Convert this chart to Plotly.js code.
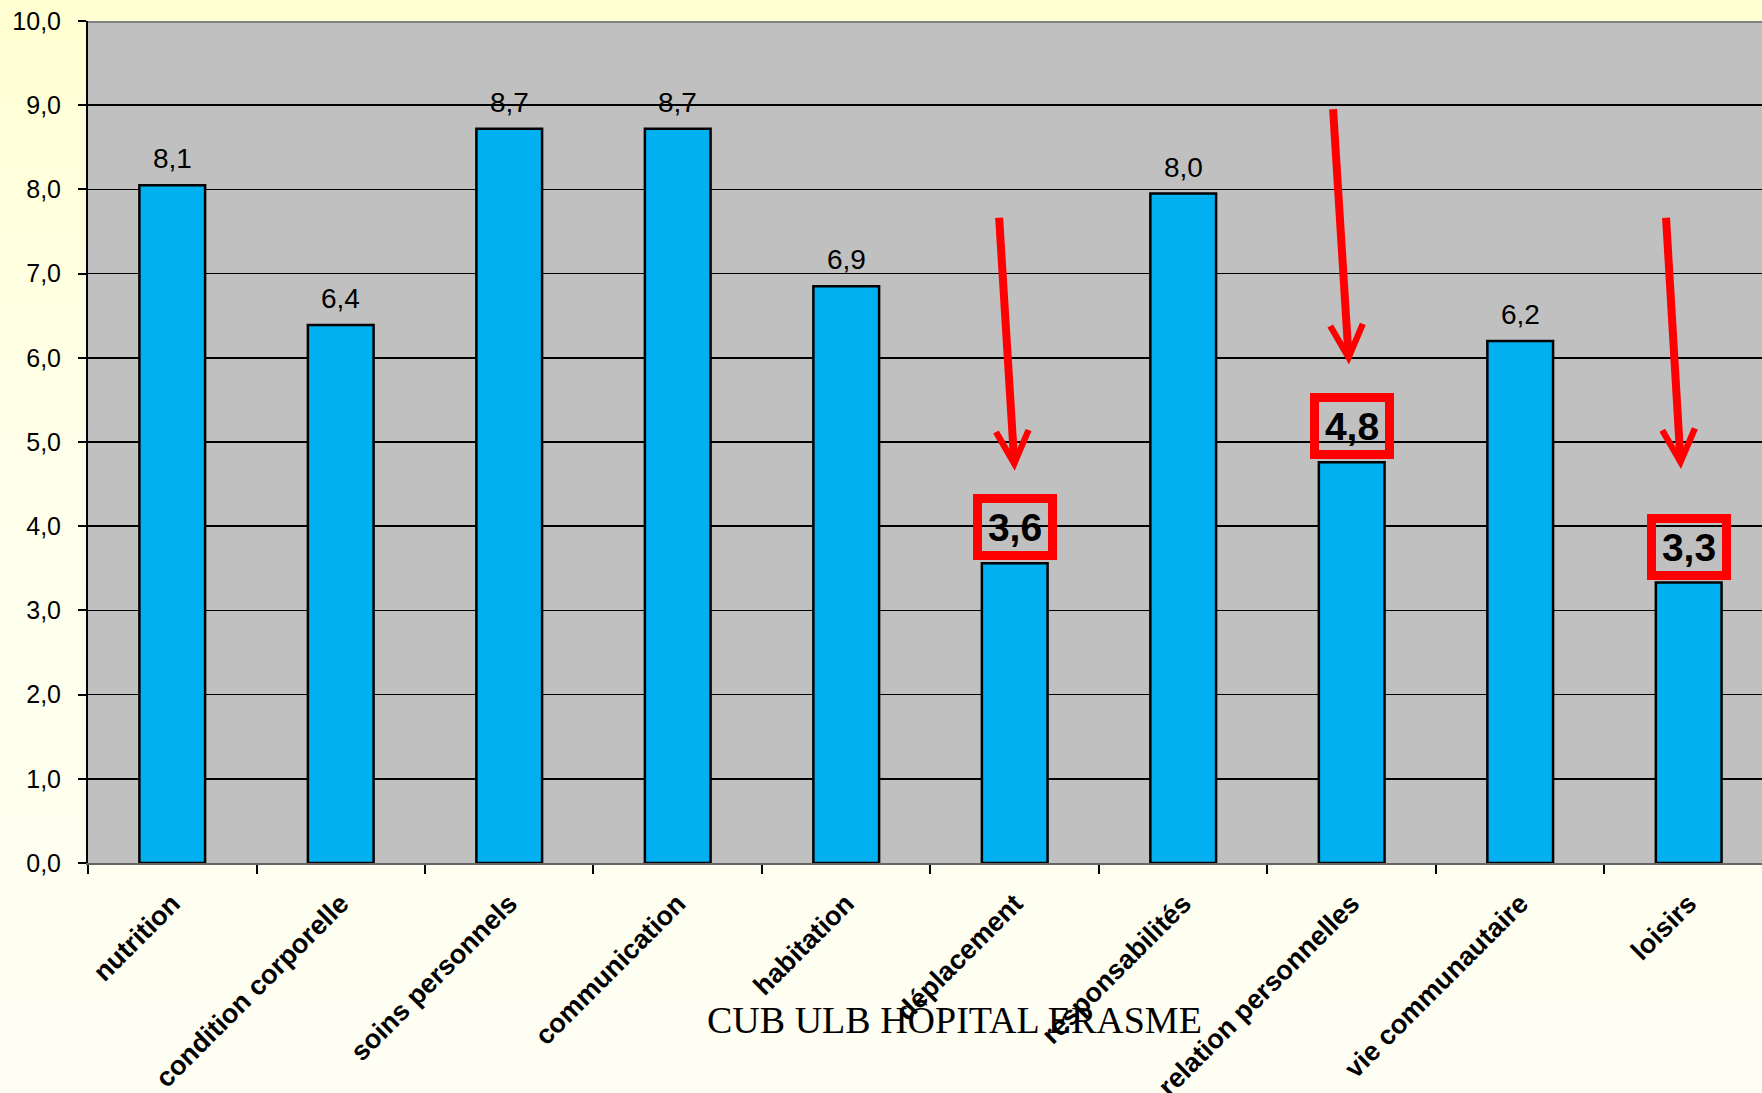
<!DOCTYPE html>
<html>
<head>
<meta charset="utf-8">
<script src="https://cdn.plot.ly/plotly-3.0.1.min.js"></script>
<style>
  html, body { margin: 0; padding: 0; }
  body { width: 1762px; height: 1093px; background: linear-gradient(to bottom, #FFFFD2 0%, #FFFFEC 45%, #FEFEF3 100%); overflow: hidden; }
  #chart { width: 1762px; height: 1093px; }
</style>
</head>
<body>
<div id="chart"></div>
<script>
// ---- data ----
const categories = ['nutrition', 'condition corporelle', 'soins personnels', 'communication', 'habitation',
                    'déplacement', 'responsabilités', 'relation personnelles', 'vie communautaire', 'loisirs'];
const values = [8.05, 6.39, 8.72, 8.72, 6.85, 3.56, 7.95, 4.76, 6.20, 3.33];
const valueLabels = ['8,1', '6,4', '8,7', '8,7', '6,9', '3,6', '8,0', '4,8', '6,2', '3,3'];
const highlighted = ['déplacement', 'relation personnelles', 'loisirs'];
const footerText = 'CUB ULB HÔPITAL ERASME';

// red hand-drawn arrows (category index and value coordinates, tail -> tip)
const arrows = [
  {tailX: 4.907, tailY: 7.68, tipX: 5.00, tipY: 4.66},
  {tailX: 6.889, tailY: 8.97, tipX: 6.984, tipY: 5.92},
  {tailX: 8.865, tailY: 7.68, tipX: 8.954, tipY: 4.68}
];

const FONT = 'Arial, "Liberation Sans", sans-serif';

const trace = {
  type: 'bar',
  x: categories,
  y: values,
  marker: {color: '#00B0F0', line: {color: '#000000', width: 2.5}},
  hoverinfo: 'skip'
};

const annotations = [];
categories.forEach((c, i) => {
  if (highlighted.includes(c)) {
    annotations.push({
      x: c, y: values[i], xref: 'x', yref: 'y',
      text: valueLabels[i], showarrow: false,
      xanchor: 'center', yanchor: 'bottom', yshift: 3,
      font: {family: FONT, size: 39, color: '#000', weight: 'bold'},
      bordercolor: '#FF0000', borderwidth: 9, borderpad: 0,
      width: 66, height: 48
    });
  } else {
    annotations.push({
      x: c, y: values[i], xref: 'x', yref: 'y',
      text: valueLabels[i], showarrow: false,
      xanchor: 'center', yanchor: 'bottom', yshift: 9,
      font: {family: FONT, size: 28, color: '#000'}
    });
  }
});
arrows.forEach(a => {
  annotations.push({
    x: a.tipX, y: a.tipY, xref: 'x', yref: 'y',
    ax: a.tailX, ay: a.tailY, axref: 'x', ayref: 'y',
    text: '', showarrow: true, arrowhead: 5, arrowsize: 0.8, arrowwidth: 8,
    arrowcolor: '#FF0000', standoff: 0, startstandoff: 0
  });
});
annotations.push({
  x: 0.5176, y: -0.186, xref: 'paper', yref: 'paper',
  text: footerText, showarrow: false, xanchor: 'center', yanchor: 'middle',
  font: {family: '"Liberation Serif", "Times New Roman", serif', size: 38, color: '#000'}
});

const layout = {
  width: 1762, height: 1093,
  margin: {l: 88, r: 0, t: 21, b: 230},
  paper_bgcolor: 'rgba(0,0,0,0)',
  plot_bgcolor: '#C0C0C0',
  separators: ',.',
  showlegend: false,
  bargap: 0.61,
  xaxis: {
    type: 'category',
    range: [-0.5, 9.435],
    tickson: 'boundaries',
    ticks: 'outside', ticklen: 9, tickwidth: 2, tickcolor: '#000',
    tickangle: -45,
    ticklabelstandoff: 12,
    tickfont: {family: FONT, size: 27, color: '#000', weight: 'bold'},
    showline: true, linecolor: '#666666', linewidth: 2,
    showgrid: false, zeroline: false, fixedrange: true
  },
  yaxis: {
    range: [0, 10], dtick: 1, tick0: 0, tickformat: '.1f',
    ticks: 'outside', ticklen: 8, tickwidth: 2, tickcolor: '#000',
    ticklabelstandoff: 12,
    tickfont: {family: FONT, size: 25, color: '#000'},
    showline: true, linecolor: '#000', linewidth: 2,
    showgrid: true, gridcolor: '#000', gridwidth: 1.5,
    zeroline: false, fixedrange: true
  },
  shapes: [
    {type: 'line', xref: 'paper', yref: 'y', x0: 0, x1: 1, y0: 10, y1: 10,
     line: {color: '#808080', width: 4}, layer: 'above'}
  ],
  annotations: annotations
};

Plotly.newPlot('chart', [trace], layout, {displayModeBar: false, staticPlot: true});
</script>
</body>
</html>
